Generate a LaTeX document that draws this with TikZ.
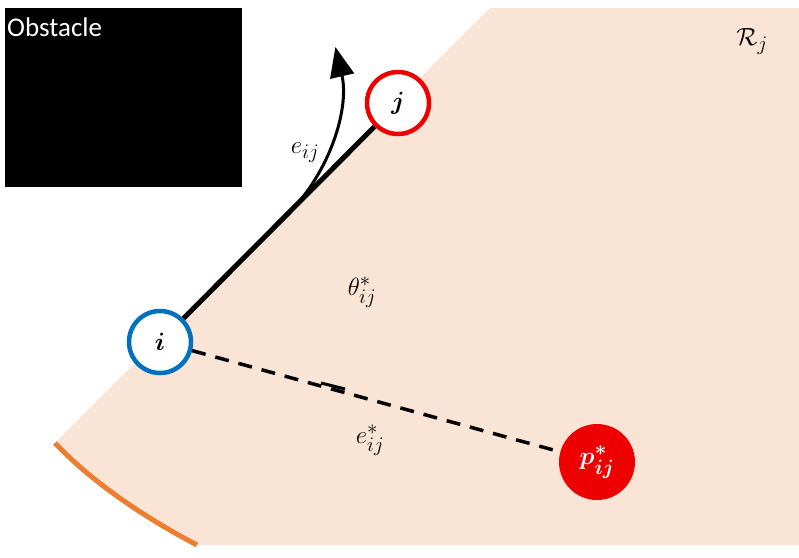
\documentclass[tikz,border=0pt]{standalone}
\usepackage{fontspec}
\usepackage{amsmath}
\setsansfont{Carlito}
\usetikzlibrary{arrows.meta}
\definecolor{reg}{RGB}{250,228,213}
\definecolor{bl}{RGB}{0,112,192}
\definecolor{rd}{RGB}{238,0,0}
\definecolor{org}{RGB}{237,125,49}
\begin{document}
\begin{tikzpicture}[x=1pt,y=-1pt,
  vtx/.style={circle,draw,line width=4.5pt,fill=white,minimum size=62pt,inner sep=0pt,font=\fontsize{30}{32}\selectfont},
  lab/.style={font=\fontsize{28}{30}\selectfont}]
\useasboundingbox (0,0) rectangle (799,557);
\fill[reg] (55,443) -- (490,8) -- (799,8) -- (799,545) -- (197,545) .. controls (140,515) and (90,480) .. (55,443) -- cycle;
\draw[org,line width=5pt] (55,443) .. controls (90,480) and (140,515) .. (197,545);
\node[fill=black,minimum width=237pt,minimum height=179pt,inner sep=0pt] (obs) at (123.5,97.5) {};
\node[anchor=north west,text=white,font=\sffamily\fontsize{27}{29}\selectfont,inner sep=0pt] (obst) at (7,18) {Obstacle};
\node[vtx,draw=bl] (i) at (160,342) {$\boldsymbol{i}$};
\node[vtx,draw=rd] (j) at (398,103) {$\boldsymbol{j}$};
\node[circle,fill=rd,minimum size=76pt,inner sep=0pt,text=white,font=\fontsize{30}{32}\selectfont] (p) at (597,462) {$\boldsymbol{p^*_{ij}}$};
\draw[line width=5pt] (i) -- (j);
\draw[line width=3.5pt,dash pattern=on 14pt off 10pt] (i.-15) -- (p);
\coordinate (ic) at (160,342);
\draw[line width=3pt,-{Triangle[length=30pt,width=24pt]}] ([shift={(45:180pt)}]ic) arc[start angle=-45,end angle=13,radius=180pt] coordinate (ae);
\draw[line width=3pt] (321,383) -- (345,389);
\node[lab] (eij) at (305,153) {$e_{ij}$};
\node[lab] (th) at (362,292) {$\theta^*_{ij}$};
\node[lab] (es) at (370,440) {$e^*_{ij}$};
\node[lab] (R) at (752,42) {$\mathcal{R}_j$};
\end{tikzpicture}
\end{document}
